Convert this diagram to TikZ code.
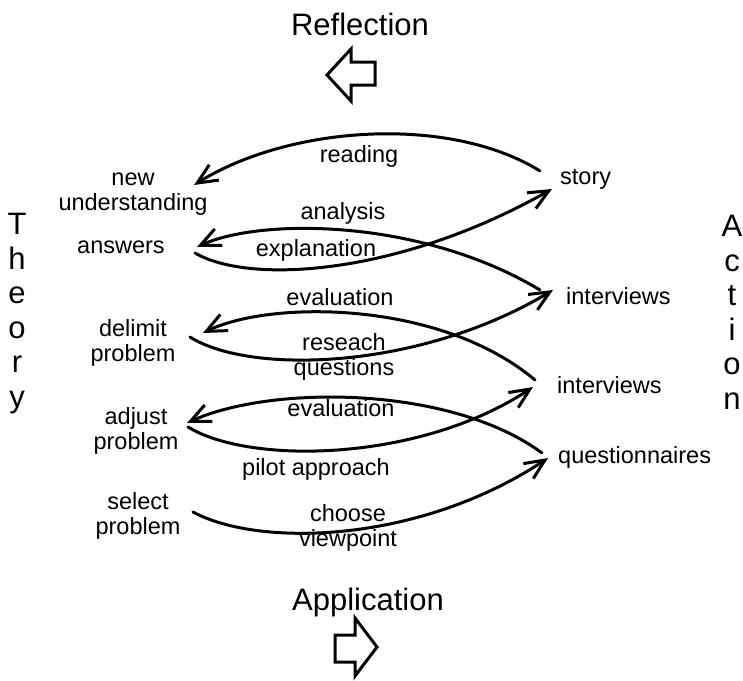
\documentclass[tikz,border=0pt]{standalone}
\usepackage{fontspec}
\setmainfont{Liberation Sans}
\usetikzlibrary{arrows.meta}
\begin{document}
\begin{tikzpicture}[x=1pt,y=-1pt,
  lbl/.style={inner sep=0pt, font=\fontsize{23.5}{24.5}\selectfont, align=center},
  big/.style={inner sep=0pt, font=\fontsize{31}{34.5}\selectfont, align=center},
  link/.style={line width=3pt, line cap=round, -{Straight Barb[length=20pt,width=18pt]}},
  blockarrow/.style={line width=3pt, line join=miter}]
\path[use as bounding box, fill=white] (0,0) rectangle (743,680);

% headings and side captions (base = baseline of the last line)
\node[big, anchor=base] (refl) at (360,35) {Reflection};
\node[big, anchor=base] (appl) at (368,610) {Application};
\node[big, anchor=base] (theory) at (17,407) {T\\h\\e\\o\\r\\y};
\node[big, anchor=base] (action) at (732,409) {A\\c\\t\\i\\o\\n};

% block arrows
\draw[blockarrow] (327,75) -- (351,49) -- (351,62) -- (375,62) -- (375,85)
  -- (351,85) -- (351,101) -- cycle;
\draw[blockarrow] (377,647) -- (355,618) -- (355,635) -- (335,635) -- (335,662)
  -- (355,662) -- (355,676) -- cycle;

% theory side
\node[lbl, anchor=base] (nu)  at (133,210) {new\\understanding};
\node[lbl, anchor=base] (ans) at (121,253) {answers};
\node[lbl, anchor=base] (del) at (133,361) {delimit\\problem};
\node[lbl, anchor=base] (adj) at (136,449) {adjust\\problem};
\node[lbl, anchor=base] (sel) at (138,534) {select\\problem};

% action side
\node[lbl, anchor=base west] (story) at (560,184) {story};
\node[lbl, anchor=base west] (iv1)   at (566,304) {interviews};
\node[lbl, anchor=base west] (iv2)   at (557,393) {interviews};
\node[lbl, anchor=base west] (qn)    at (558,463) {questionnaires};

% connector labels
\node[lbl, anchor=base] (lread)  at (359,162) {reading};
\node[lbl, anchor=base] (lana)   at (343,219) {analysis};
\node[lbl, anchor=base] (lexpl)  at (316,256) {explanation};
\node[lbl, anchor=base] (leval1) at (340,305) {evaluation};
\node[lbl, anchor=base] (lres)   at (344,375) {reseach\\questions};
\node[lbl, anchor=base] (leval2) at (341,416) {evaluation};
\node[lbl, anchor=base] (lpilot) at (316,475) {pilot approach};
\node[lbl, anchor=base] (lview)  at (348,546) {choose\\viewpoint};

% connectors
\draw[link] ([shift={(-20,-13)}]story.base west) .. controls +(-90,-56) and +(96,-60) .. ([shift={(61,-25)}]nu.base);
\draw[link] ([shift={(-26,-14)}]iv1.base west) .. controls +(-120,-72) and +(63,-29) .. ([shift={(76,-6)}]ans.base);
\draw[link] ([shift={(74,0)}]ans.base) .. controls +(55,32) and +(-152,86) .. ([shift={(-8,5)}]story.base west);
\draw[link] ([shift={(-22,-13)}]iv2.base west) .. controls +(-95,-80) and +(67,-33) .. ([shift={(70,-28)}]del.base);
\draw[link] ([shift={(57,-24)}]del.base) .. controls +(60,38) and +(-133,80) .. ([shift={(-13,-14)}]iv1.base west);
\draw[link] ([shift={(-16,-10)}]qn.base west) .. controls +(-92,-68) and +(83,-38) .. ([shift={(51,-26)}]adj.base);
\draw[link] ([shift={(52,-22)}]adj.base) .. controls +(62,38) and +(-113,75) .. ([shift={(-24,-6)}]iv2.base west);
\draw[link] ([shift={(55,-22)}]sel.base) .. controls +(67,36) and +(-128,85) .. ([shift={(-10,-5)}]qn.base west);
\end{tikzpicture}
\end{document}
